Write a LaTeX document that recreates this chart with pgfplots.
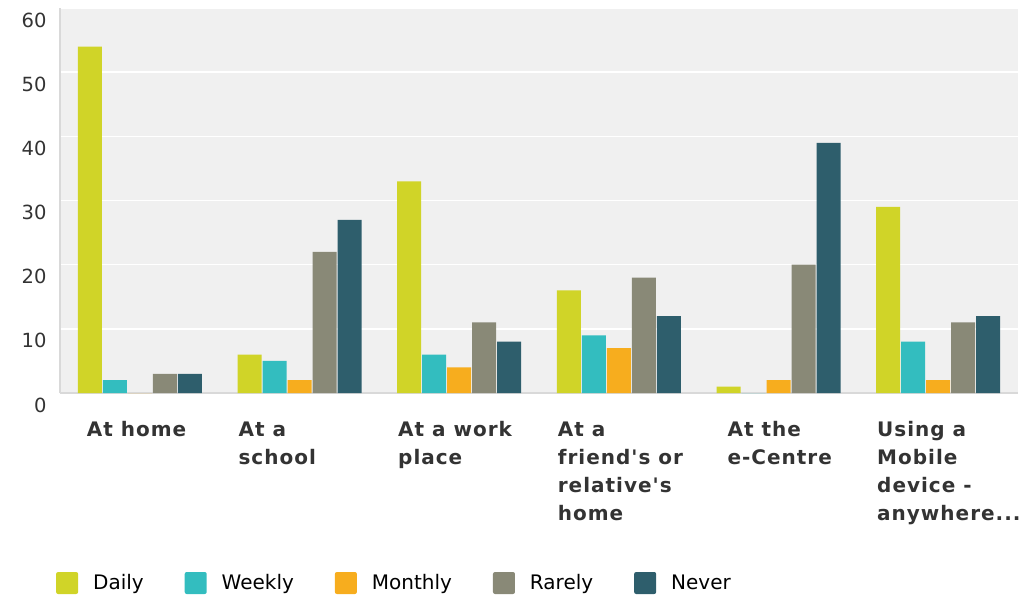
\documentclass[border=0pt]{standalone}
\usepackage{fontspec}
\setmainfont{DejaVu Sans}[Ligatures=TeXOff]
\usepackage{pgfplots}
\usepackage{pgfplotstable}
\pgfplotsset{compat=1.18}

\definecolor{cDaily}{HTML}{D0D428}
\definecolor{cWeekly}{HTML}{33BDBF}
\definecolor{cMonthly}{HTML}{F7AD1E}
\definecolor{cRarely}{HTML}{898977}
\definecolor{cNever}{HTML}{2E5E6C}
\definecolor{txt}{HTML}{333333}

% x: 0 home, 1 school, 2 work, 3 friend, 4 e-Centre, 5 mobile
\pgfplotstableread{
x daily weekly monthly rarely never
0 54 2 0 3 3
1 6 5 2 22 27
2 33 6 4 11 8
3 16 9 7 18 12
4 1 0 2 20 39
5 29 8 2 11 12
}\usage

\begin{document}
\begin{tikzpicture}
\path[use as bounding box] (0,0) rectangle (1024pt,600pt);
\begin{axis}[
  at={(60pt,207pt)}, anchor=south west,
  scale only axis, width=958pt, height=385pt,
  ybar=1pt, bar width=24pt,
  xmin=-0.5, xmax=5.5, ymin=0, ymax=60,
  axis background/.style={fill=black!6},
  axis x line=bottom, axis y line=left,
  axis line style={draw=black!15, line width=2.5pt, -},
  major tick length=0pt,
  ymajorgrids, major grid style={white, line width=1.5pt},
  ytick={0,10,20,30,40,50,60},
  yticklabel style={font=\fontsize{19.5}{24}\selectfont, text=txt, anchor=east, xshift=-10pt, yshift=-12pt},
  /pgf/number format/assume math mode=true,
  xtick={0,1,2,3,4,5},
  xticklabels={\hspace*{8pt}At home, At a\\school, At a work\\place, At a\\friend's or\\relative's\\home, \hspace*{10pt}At the\\\hspace*{10pt}e-Centre, {Using a\\Mobile\\device -\\anywhere.{}.{}.}},
  xticklabel style={font=\fontsize{20}{28}\selectfont\bfseries\addfontfeature{LetterSpace=5}, text=txt, align=left, anchor=north west, xshift=-64.5pt, yshift=-25pt},
  legend style={at={(-0.0074,-0.4935)}, anchor=west, draw=none, fill=none,
    legend columns=5, font=\fontsize{20}{24}\selectfont,
    /tikz/every even column/.append style={column sep=39pt}},
  legend image code/.code={\path[#1, draw=none, rounded corners=2pt] (0pt,-11pt) rectangle (22pt,11pt); \path (35pt,0pt);},
]
\addplot[fill=cDaily, draw=none] table[x=x, y=daily] {\usage};
\addplot[fill=cWeekly, draw=none] table[x=x, y=weekly] {\usage};
\addplot[fill=cMonthly, draw=none] table[x=x, y=monthly] {\usage};
\addplot[fill=cRarely, draw=none] table[x=x, y=rarely] {\usage};
\addplot[fill=cNever, draw=none] table[x=x, y=never] {\usage};
\legend{Daily, Weekly, Monthly, Rarely, Never}
\end{axis}
\end{tikzpicture}
\end{document}
